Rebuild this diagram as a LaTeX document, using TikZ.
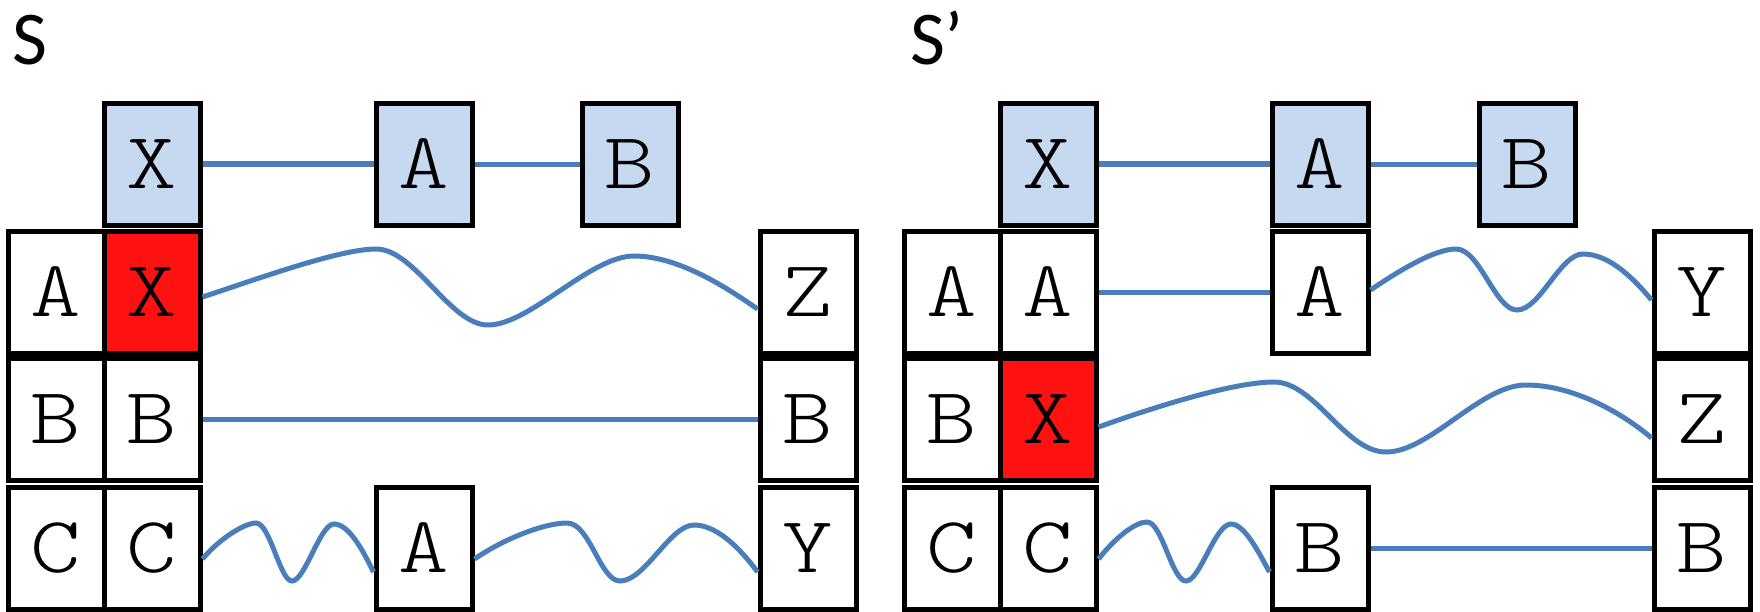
\documentclass[tikz,border=0pt]{standalone}
\usepackage{fontspec}
\newfontfamily\titlefont{Carlito}
\newfontfamily\cellfont[FakeStretch=1.2]{Latin Modern Mono Light}
\definecolor{lineblue}{HTML}{4A7EBB}
\definecolor{boxblue}{HTML}{C6D9F1}
\definecolor{boxred}{HTML}{FF1111}
\begin{document}
\begin{tikzpicture}[x=1pt,y=-1pt,
  cell/.style={draw=black,line width=5pt,minimum width=96pt,minimum height=122pt,inner sep=0pt,
    font=\cellfont\fontsize{80}{80}\selectfont},
  bluecell/.style={cell,fill=boxblue},
  redcell/.style={cell,fill=boxred},
  link/.style={draw=lineblue,line width=5pt},
  thicklink/.style={draw=lineblue,line width=6.5pt},
  title/.style={font=\titlefont\fontsize{76}{76}\selectfont,inner sep=0pt,anchor=base west}]
\useasboundingbox (0,0) rectangle (1760,611);

% ---------- S ----------
\node[title] (tS) at (12,64) {S};
\node[bluecell] (lTX) at (152,164) {X};
\node[bluecell] (lTA) at (424,164) {A};
\node[bluecell] (lTB) at (630,164) {B};
\node[cell] (l1a) at (56,292) {A};
\node[redcell] (l1x) at (152,292) {X};
\node[cell] (l1z) at (808,292) {Z};
\node[cell] (l2a) at (56,419) {B};
\node[cell] (l2b) at (152,419) {B};
\node[cell] (l2z) at (808,419) {B};
\node[cell] (l3a) at (56,548) {C};
\node[cell] (l3b) at (152,548) {C};
\node[cell] (l3m) at (424,548) {A};
\node[cell] (l3z) at (808,548) {Y};

\draw[thicklink] (lTX.east) -- (lTA.west);
\draw[link] (lTA.east) -- (lTB.west);
\draw[link] ([yshift=-5pt]l1x.east) .. controls (260,278) and (340,249) .. (376,249)
  .. controls (415,249) and (450,325) .. (488,325)
  .. controls (530,325) and (590,256) .. (634,256)
  .. controls (680,256) and (730,290) .. ([yshift=-17pt]l1z.west);
\draw[link] (l2b.east) -- (l2z.west);
\draw[link] ([yshift=-11pt]l3b.east) .. controls (220,538) and (245,523) .. (256,523)
  .. controls (270,523) and (280,581) .. (292,581)
  .. controls (305,581) and (320,524) .. (334,524)
  .. controls (350,524) and (365,555) .. ([yshift=-24pt]l3m.west);
\draw[link] ([yshift=-11pt]l3m.east) .. controls (505,538) and (545,523) .. (567,523)
  .. controls (590,523) and (600,581) .. (620,581)
  .. controls (645,581) and (670,525) .. (694,525)
  .. controls (720,525) and (745,555) .. ([yshift=-24pt]l3z.west);

% ---------- S' ----------
\node[title] (tSp) at (910,64) {S’};
\node[bluecell] (rTX) at (1048,164) {X};
\node[bluecell] (rTA) at (1320,164) {A};
\node[bluecell] (rTB) at (1527,164) {B};
\node[cell] (r1a) at (952,292) {A};
\node[cell] (r1b) at (1048,292) {A};
\node[cell] (r1m) at (1320,292) {A};
\node[cell] (r1z) at (1702,292) {Y};
\node[cell] (r2a) at (952,419) {B};
\node[redcell] (r2x) at (1048,419) {X};
\node[cell] (r2z) at (1702,419) {Z};
\node[cell] (r3a) at (952,548) {C};
\node[cell] (r3b) at (1048,548) {C};
\node[cell] (r3m) at (1320,548) {B};
\node[cell] (r3z) at (1702,548) {B};

\draw[thicklink] (rTX.east) -- (rTA.west);
\draw[link] (rTA.east) -- (rTB.west);
\draw[link] (r1b.east) -- (r1m.west);
\draw[link] ([yshift=2pt]r1m.east) .. controls (1400,270) and (1435,249) .. (1456,249)
  .. controls (1480,249) and (1495,310) .. (1517,310)
  .. controls (1540,310) and (1560,254) .. (1583,254)
  .. controls (1610,254) and (1635,280) .. ([yshift=-8pt]r1z.west);
\draw[link] ([yshift=-8pt]r2x.east) .. controls (1160,405) and (1235,382) .. (1274,382)
  .. controls (1315,382) and (1345,452) .. (1386,452)
  .. controls (1430,452) and (1480,385) .. (1526,385)
  .. controls (1575,385) and (1625,415) .. ([yshift=-19pt]r2z.west);
\draw[link] ([yshift=-11pt]r3b.east) .. controls (1115,538) and (1135,522) .. (1147,522)
  .. controls (1162,522) and (1172,581) .. (1186,581)
  .. controls (1200,581) and (1215,524) .. (1231,524)
  .. controls (1245,524) and (1260,555) .. ([yshift=-24pt]r3m.west);
\draw[link] (r3m.east) -- (r3z.west);
\end{tikzpicture}
\end{document}
